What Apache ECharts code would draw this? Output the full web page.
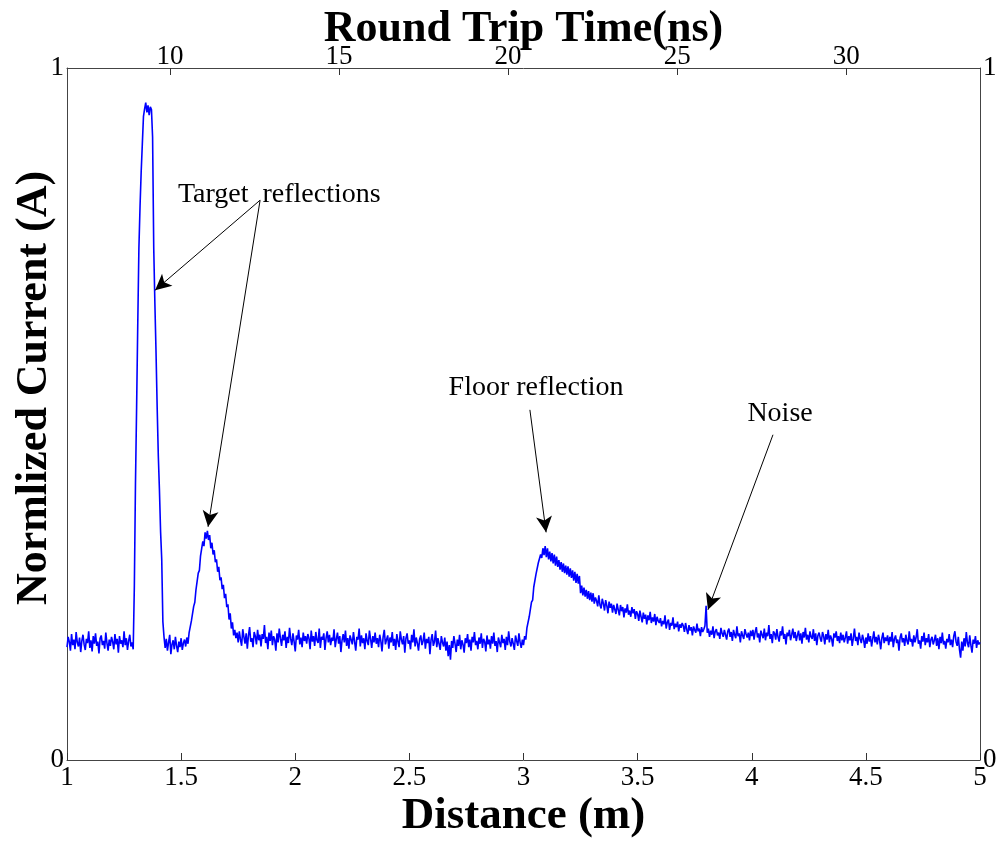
<!DOCTYPE html>
<html>
<head>
<meta charset="utf-8">
<script src="https://cdn.jsdelivr.net/npm/echarts@6/dist/echarts.min.js"></script>
<style>
  html, body { margin: 0; padding: 0; background: #fff; }
  #chart { width: 1003px; height: 845px; }
</style>
</head>
<body>
<div id="chart"></div>
<script>
  // sample spacing along the distance axis (m)
  var step = 0.005;

  // 1.000 - 1.290 m : noise floor before the target
  var baseStart = 1.00;
  var baseLeft = [
    0.163, 0.178, 0.171, 0.158, 0.182, 0.166, 0.174, 0.160, 0.185, 0.170, 0.164, 0.177, 0.156, 0.172, 0.181, 0.167, 0.159, 0.175, 0.169, 0.186,
    0.162, 0.173, 0.157, 0.179, 0.168, 0.183, 0.165, 0.171, 0.154, 0.176, 0.180, 0.166, 0.172, 0.161, 0.184, 0.169, 0.158, 0.174, 0.165, 0.178,
    0.171, 0.160, 0.182, 0.167, 0.175, 0.155, 0.179, 0.168, 0.173, 0.163, 0.186, 0.166, 0.176, 0.159, 0.172, 0.181, 0.164, 0.170, 0.160];

  // 1.295 - 1.425 m : first target reflection
  var peakStart = 1.295;
  var mainPeak = [0.25, 0.40, 0.51, 0.63, 0.74, 0.80, 0.85, 0.89, 0.93, 0.941, 0.950, 0.936, 0.946, 0.932,
    0.944, 0.940, 0.90, 0.74, 0.66, 0.59, 0.51, 0.44, 0.39, 0.33, 0.29, 0.20, 0.178];

  // 1.430 - 1.525 m
  var gapStart = 1.43;
  var gap = [0.162, 0.175, 0.158, 0.170, 0.181, 0.153, 0.167, 0.173, 0.160, 0.178, 0.165, 0.156, 0.171, 0.163, 0.176, 0.159, 0.169, 0.174, 0.164, 0.177];

  // 1.530 - 1.745 m : second target reflection
  var secondStart = 1.53;
  var secondPeak = [0.168, 0.184, 0.186, 0.201, 0.203, 0.222, 0.228, 0.246, 0.247, 0.270, 0.274, 0.295, 0.294, 0.316, 0.309,
    0.329, 0.320, 0.331, 0.318, 0.325, 0.306, 0.314, 0.297, 0.303, 0.286, 0.290, 0.272, 0.279, 0.260, 0.264,
    0.247, 0.253, 0.234, 0.240, 0.221, 0.225, 0.203, 0.212, 0.190, 0.199, 0.180, 0.188, 0.176, 0.184];

  // 1.750 - 2.995 m
  var midStart = 1.75;
  var midBase = [
    0.170, 0.186, 0.174, 0.165, 0.189, 0.178, 0.168, 0.183, 0.161, 0.180, 0.192, 0.171, 0.176, 0.163, 0.185, 0.179, 0.167, 0.188, 0.173, 0.181,
    0.164, 0.182, 0.175, 0.195, 0.169, 0.178, 0.160, 0.184, 0.172, 0.187, 0.166, 0.179, 0.174, 0.158, 0.183, 0.170, 0.190, 0.176, 0.165, 0.181,
    0.173, 0.186, 0.162, 0.178, 0.169, 0.191, 0.175, 0.166, 0.183, 0.171, 0.157, 0.180, 0.174, 0.188, 0.167, 0.177, 0.163, 0.184, 0.172, 0.179,
    0.168, 0.182, 0.176, 0.160, 0.187, 0.171, 0.179, 0.165, 0.185, 0.173, 0.169, 0.190, 0.162, 0.178, 0.174, 0.183, 0.159, 0.176, 0.186, 0.170,
    0.181, 0.166, 0.177, 0.172, 0.189, 0.163, 0.175, 0.184, 0.168, 0.179, 0.156, 0.173, 0.182, 0.170, 0.187, 0.165, 0.176, 0.161, 0.180, 0.174,
    0.167, 0.185, 0.171, 0.158, 0.178, 0.174, 0.190, 0.164, 0.180, 0.169, 0.176, 0.160, 0.183, 0.172, 0.166, 0.187, 0.175, 0.162, 0.179, 0.170,
    0.184, 0.168, 0.176, 0.163, 0.181, 0.172, 0.157, 0.178, 0.188, 0.167, 0.174, 0.180, 0.161, 0.177, 0.170, 0.185, 0.165, 0.175, 0.159, 0.182,
    0.171, 0.163, 0.186, 0.174, 0.167, 0.179, 0.155, 0.176, 0.183, 0.168, 0.173, 0.160, 0.181, 0.170, 0.189, 0.164, 0.177, 0.169, 0.158, 0.175,
    0.180, 0.166, 0.172, 0.184, 0.161, 0.175, 0.169, 0.178, 0.153, 0.174, 0.182, 0.165, 0.171, 0.187, 0.163, 0.176, 0.168, 0.159, 0.179, 0.170,
    0.164, 0.177, 0.158, 0.171, 0.150, 0.166, 0.145, 0.172, 0.162, 0.179, 0.168, 0.156, 0.174, 0.165, 0.181, 0.160, 0.173, 0.167, 0.155, 0.176,
    0.169, 0.182, 0.163, 0.174, 0.158, 0.178, 0.170, 0.185, 0.166, 0.172, 0.160, 0.177, 0.168, 0.183, 0.162, 0.175, 0.171, 0.157, 0.180, 0.167,
    0.174, 0.161, 0.179, 0.168, 0.184, 0.165, 0.172, 0.156, 0.177, 0.170, 0.163, 0.181, 0.169, 0.175, 0.159, 0.178, 0.166, 0.186, 0.171, 0.164,
    0.176, 0.168, 0.159, 0.180, 0.172, 0.165, 0.183, 0.170, 0.162, 0.174];

  // 3.000 - 3.995 m : floor reflection and its decay
  var floorStart = 3.00;
  var floorPeak = [
    0.166, 0.179, 0.174, 0.191, 0.189, 0.207, 0.206, 0.228, 0.231, 0.250, 0.251, 0.269, 0.268, 0.285, 0.283, 0.297, 0.292, 0.306, 0.296, 0.309,
    0.293, 0.306, 0.290, 0.301, 0.287, 0.299, 0.284, 0.297, 0.281, 0.294, 0.279, 0.289, 0.275, 0.286, 0.272, 0.284, 0.270, 0.281, 0.268, 0.280,
    0.265, 0.277, 0.263, 0.274, 0.259, 0.272, 0.256, 0.269, 0.255, 0.266, 0.241, 0.252, 0.238, 0.249, 0.236, 0.246, 0.233, 0.244, 0.231, 0.242,
    0.229, 0.241, 0.226, 0.235, 0.230, 0.222, 0.238, 0.224, 0.219, 0.233, 0.226, 0.216, 0.231, 0.223, 0.212, 0.229, 0.220, 0.226, 0.213, 0.224,
    0.222, 0.211, 0.226, 0.217, 0.209, 0.224, 0.215, 0.221, 0.206, 0.219, 0.213, 0.225, 0.210, 0.216, 0.207, 0.221, 0.212, 0.218, 0.204, 0.215,
    0.211, 0.201, 0.216, 0.207, 0.199, 0.213, 0.204, 0.210, 0.196, 0.209, 0.202, 0.214, 0.198, 0.206, 0.200, 0.211, 0.195, 0.207, 0.201, 0.198,
    0.205, 0.193, 0.201, 0.196, 0.209, 0.190, 0.199, 0.203, 0.188, 0.198, 0.194, 0.206, 0.189, 0.197, 0.192, 0.200, 0.186, 0.196, 0.191, 0.198,
    0.194, 0.185, 0.198, 0.189, 0.182, 0.195, 0.187, 0.192, 0.180, 0.193, 0.188, 0.184, 0.197, 0.186, 0.190, 0.179, 0.192, 0.185, 0.189, 0.194,
    0.223, 0.184, 0.190, 0.178, 0.187, 0.181, 0.193, 0.176, 0.186, 0.189, 0.180, 0.184, 0.175, 0.191, 0.183, 0.178, 0.188, 0.181, 0.174, 0.186,
    0.190, 0.178, 0.185, 0.172, 0.188, 0.181, 0.176, 0.193, 0.179, 0.183, 0.170, 0.186, 0.180, 0.175, 0.189, 0.182, 0.177, 0.184, 0.173, 0.187];

  // 4.000 - 5.000 m
  var tailStart = 4.00;
  var tail = [
    0.179, 0.188, 0.174, 0.185, 0.192, 0.177, 0.183, 0.170, 0.187, 0.181, 0.176, 0.190, 0.173, 0.184, 0.179, 0.195, 0.175, 0.182, 0.169, 0.186,
    0.183, 0.174, 0.189, 0.178, 0.171, 0.186, 0.180, 0.193, 0.175, 0.182, 0.167, 0.184, 0.179, 0.188, 0.173, 0.181, 0.190, 0.176, 0.185, 0.172,
    0.180, 0.187, 0.173, 0.183, 0.168, 0.185, 0.177, 0.191, 0.174, 0.181, 0.170, 0.186, 0.178, 0.175, 0.189, 0.172, 0.183, 0.166, 0.180, 0.184,
    0.176, 0.171, 0.185, 0.179, 0.167, 0.182, 0.174, 0.188, 0.170, 0.180, 0.175, 0.164, 0.183, 0.177, 0.186, 0.172, 0.179, 0.169, 0.184, 0.173,
    0.181, 0.170, 0.177, 0.186, 0.168, 0.179, 0.173, 0.183, 0.165, 0.176, 0.190, 0.172, 0.178, 0.166, 0.184, 0.175, 0.169, 0.181, 0.174, 0.162,
    0.177, 0.168, 0.183, 0.171, 0.179, 0.164, 0.175, 0.186, 0.170, 0.178, 0.167, 0.181, 0.173, 0.160, 0.176, 0.184, 0.169, 0.177, 0.172, 0.180,
    0.166, 0.178, 0.171, 0.185, 0.163, 0.175, 0.180, 0.169, 0.174, 0.158, 0.177, 0.183, 0.170, 0.176, 0.165, 0.181, 0.172, 0.167, 0.186, 0.171,
    0.175, 0.164, 0.180, 0.170, 0.177, 0.189, 0.168, 0.173, 0.161, 0.179, 0.171, 0.184, 0.166, 0.176, 0.170, 0.182, 0.163, 0.174, 0.178, 0.167,
    0.173, 0.181, 0.165, 0.176, 0.160, 0.178, 0.169, 0.184, 0.167, 0.172, 0.161, 0.175, 0.170, 0.182, 0.166, 0.174, 0.163, 0.179, 0.186, 0.171,
    0.165, 0.178, 0.160, 0.148, 0.171, 0.158, 0.176, 0.164, 0.185, 0.169, 0.163, 0.180, 0.166, 0.155, 0.174, 0.168, 0.179, 0.162, 0.173, 0.167,
    0.170];

  var timeTicks = [10, 15, 20, 25, 30];

  function toPairs(start, values) {
    return values.map(function (v, i) {
      return [+(start + i * step).toFixed(3), v];
    });
  }

  var signal = [].concat(
    toPairs(baseStart, baseLeft),
    toPairs(peakStart, mainPeak),
    toPairs(gapStart, gap),
    toPairs(secondStart, secondPeak),
    toPairs(midStart, midBase),
    toPairs(floorStart, floorPeak),
    toPairs(tailStart, tail)
  );

  var serif = 'Liberation Serif';
  var myChart = echarts.init(document.getElementById('chart'));

  myChart.setOption({
    animation: false,
    grid: { left: 67, right: 23, top: 68, bottom: 85, outerBoundsMode: 'none', containLabel: false },
    xAxis: [{
      type: 'value',
      position: 'bottom',
      min: 1, max: 5, interval: 0.5,
      name: 'Distance (m)',
      nameLocation: 'middle',
      nameGap: 34,
      nameMoveOverlap: false,
      nameTextStyle: { fontFamily: serif, fontWeight: 'bold', fontSize: 45, color: '#000' },
      axisLine: { onZero: false, lineStyle: { color: '#444', width: 1 } },
      axisTick: { inside: true, length: 7, lineStyle: { color: '#333' } },
      axisLabel: { fontFamily: serif, fontSize: 27, color: '#000', margin: 4 },
      splitLine: { show: false }
    }, {
      type: 'value',
      position: 'top',
      min: 6.95, max: 33.96,
      name: 'Round Trip Time(ns)',
      nameLocation: 'middle',
      nameGap: 16,
      nameMoveOverlap: false,
      nameTextStyle: { fontFamily: serif, fontWeight: 'bold', fontSize: 44, color: '#000' },
      axisLine: { onZero: false, lineStyle: { color: '#444', width: 1 } },
      axisTick: { inside: true, length: 7, customValues: timeTicks, lineStyle: { color: '#333' } },
      axisLabel: { fontFamily: serif, fontSize: 27, color: '#000', margin: -2, customValues: timeTicks },
      splitLine: { show: false }
    }],
    yAxis: [{
      type: 'value',
      position: 'left',
      min: 0, max: 1, interval: 1,
      name: 'Normlized Current (A)',
      nameLocation: 'middle',
      nameRotate: 90,
      nameGap: 10,
      nameMoveOverlap: false,
      nameTextStyle: { fontFamily: serif, fontWeight: 'bold', fontSize: 44, color: '#000', padding: [0, 0, 0, 52] },
      axisLine: { show: true, onZero: false, lineStyle: { color: '#444', width: 1 } },
      axisTick: { show: false },
      axisLabel: { fontFamily: serif, fontSize: 27, color: '#000', margin: 3 },
      splitLine: { show: false }
    }, {
      type: 'value',
      position: 'right',
      min: 0, max: 1, interval: 1,
      axisLine: { show: true, onZero: false, lineStyle: { color: '#444', width: 1 } },
      axisTick: { show: false },
      axisLabel: { fontFamily: serif, fontSize: 27, color: '#000', margin: 3 },
      splitLine: { show: false }
    }],
    series: [{
      name: 'current',
      type: 'line',
      xAxisIndex: 0,
      yAxisIndex: 0,
      showSymbol: false,
      lineStyle: { color: '#0000ff', width: 1.6 },
      data: signal,
      // arrows pointing at the reflections
      markLine: {
        silent: true,
        symbol: ['none', 'arrow'],
        symbolSize: [12, 16],
        label: { show: false },
        lineStyle: { color: '#000', width: 1, type: 'solid' },
        data: [
          [{ coord: [1.846, 0.809] }, { coord: [1.386, 0.679] }],
          [{ coord: [1.846, 0.809] }, { coord: [1.618, 0.337] }],
          [{ coord: [3.028, 0.506] }, { coord: [3.099, 0.329] }],
          [{ coord: [4.093, 0.470] }, { coord: [3.808, 0.217] }]
        ]
      },
      markPoint: {
        silent: true,
        symbol: 'rect',
        symbolSize: 1,
        itemStyle: { color: 'rgba(0,0,0,0)' },
        label: {
          show: true,
          position: 'inside',
          formatter: function (p) { return p.name; },
          fontFamily: serif,
          fontSize: 28,
          color: '#000'
        },
        data: [
          { name: 'Target  reflections', coord: [1.93, 0.817] },
          { name: 'Floor reflection', coord: [3.055, 0.538] },
          { name: 'Noise', coord: [4.124, 0.501] }
        ]
      }
    }]
  });
</script>
</body>
</html>
